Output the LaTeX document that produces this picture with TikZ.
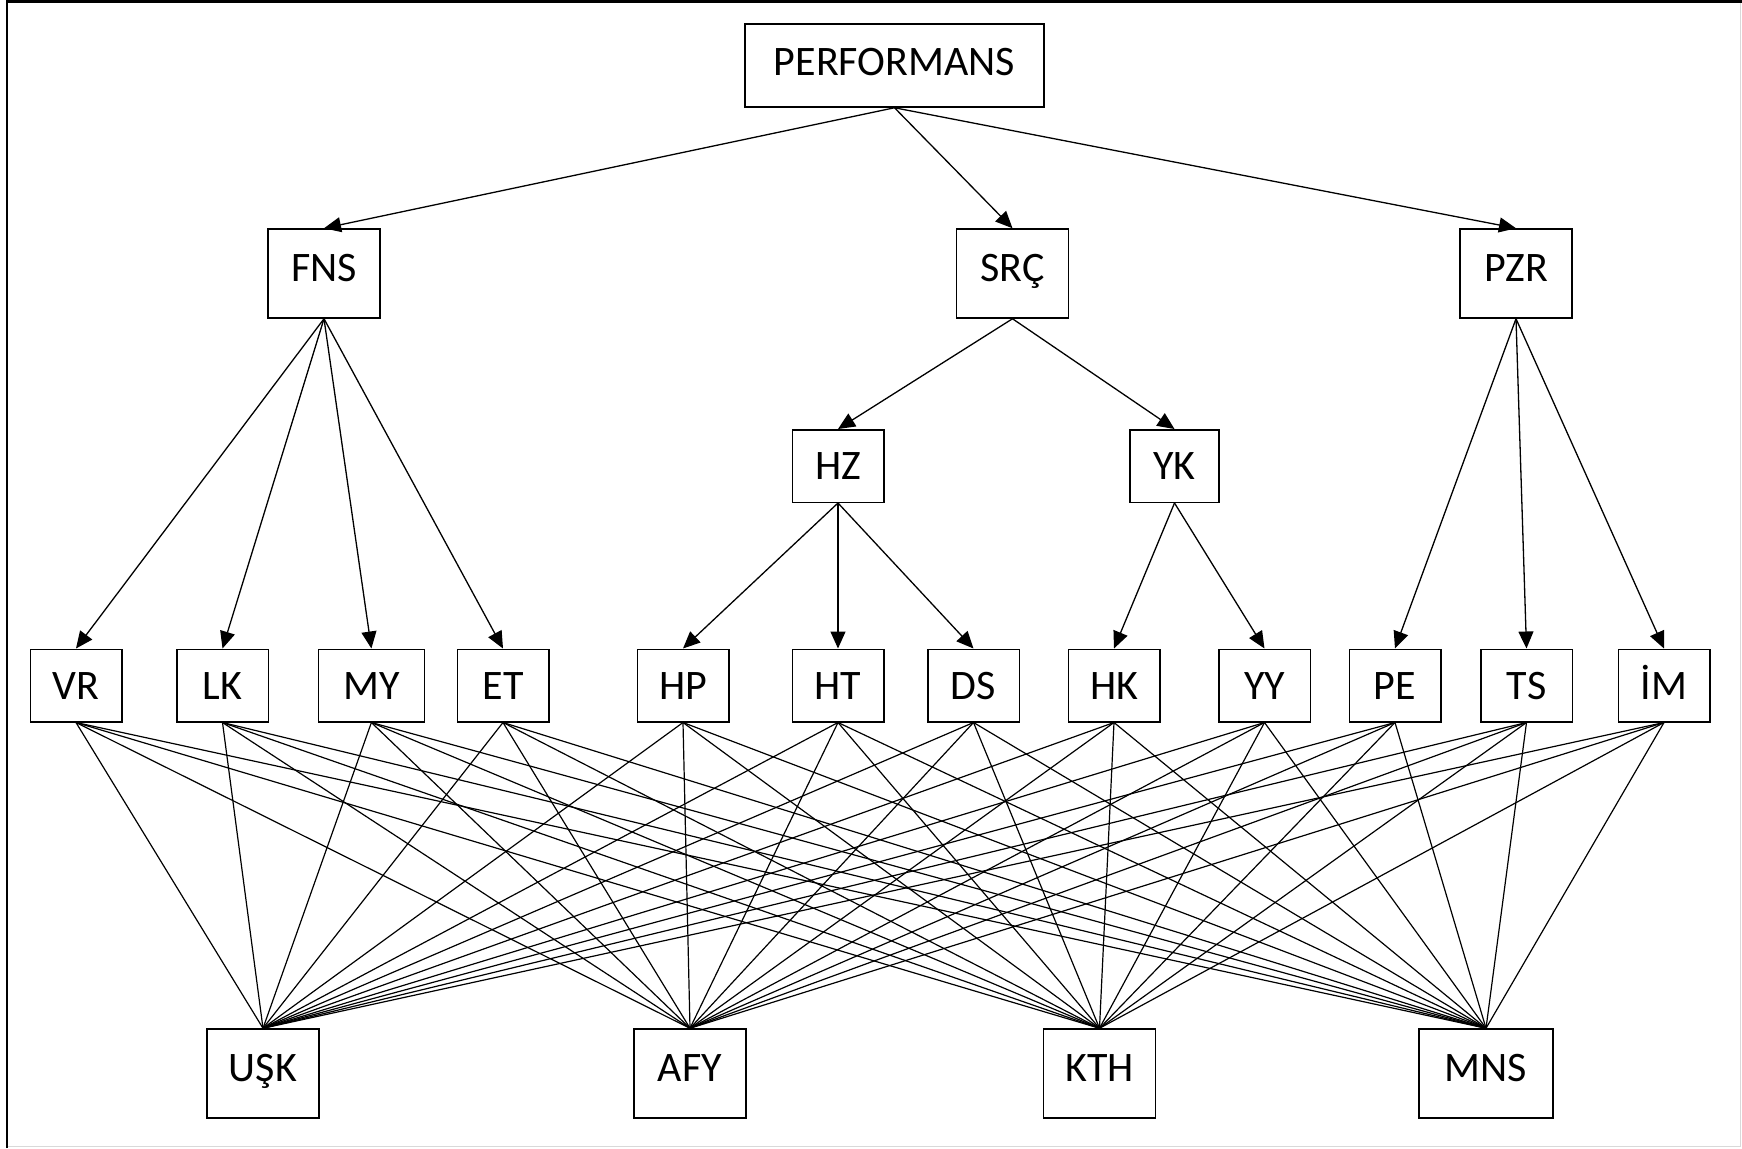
\documentclass[tikz,border=0pt]{standalone}
\usepackage{fontspec}
\setmainfont{Carlito}
\usetikzlibrary{arrows.meta}

\tikzset{
  kutu/.style={draw, line width=0.75pt, inner sep=0pt, minimum width=45.75pt, minimum height=36.25pt,
    text height=13.5pt, text depth=0pt, font=\fontsize{21}{25}\selectfont},
  genis/.style={kutu, minimum width=56pt, minimum height=44.5pt, text depth=5.5pt},
  ok/.style={-{Triangle[length=8.5pt, width=7.5pt]}, line width=0.65pt},
  bag/.style={line width=0.6pt}
}

\begin{document}
\begin{tikzpicture}[x=0.5pt, y=-0.5pt]
  \useasboundingbox (0,0) rectangle (1742,1148);

  % cerceve
  \draw[black!15, line width=0.6pt] (1740.5,1) -- (1740.5,1146.5) -- (7,1146.5);
  \draw[line width=1.1pt] (7,1148) -- (7,1.5) -- (1742,1.5);

  % ust duzey
  \node[kutu, minimum width=149.5pt, minimum height=41.5pt, text depth=3.3pt] (perf) at (894.5,65.5) {PERFORMANS};

  \node[genis] (fns) at (324,273.5) {FNS};
  \node[genis] (src) at (1012.5,273.5) {SRÇ};
  \node[genis] (pzr) at (1516,273.5) {PZR};

  \node[kutu] (hz) at (838,466) {HZ};
  \node[kutu, minimum width=44.5pt] (yk) at (1174.5,466) {YK};

  % kriterler
  \node[kutu] (vr) at (76,685.5) {VR};
  \node[kutu] (lk) at (222.5,685.5) {LK};
  \node[kutu, minimum width=53pt] (my) at (371.4,685.5) {MY};
  \node[kutu] (et) at (503,685.5) {ET};
  \node[kutu] (hp) at (683,685.5) {HP};
  \node[kutu] (ht) at (838,685.5) {HT};
  \node[kutu] (ds) at (973.5,685.5) {DS};
  \node[kutu] (hk) at (1114,685.5) {HK};
  \node[kutu] (yy) at (1264.5,685.5) {YY};
  \node[kutu] (pe) at (1395,685.5) {PE};
  \node[kutu] (ts) at (1526.5,685.5) {TS};
  \node[kutu] (im) at (1664,685.5) {İM};

  % alternatifler
  \node[genis] (usk) at (263,1073.5) {UŞK};
  \node[genis] (afy) at (690,1073.5) {AFY};
  \node[genis] (kth) at (1099.5,1073.5) {KTH};
  \node[genis, minimum width=67pt] (mns) at (1486,1073.5) {MNS};

  % oklar
  \draw[ok] (perf.south) -- (fns.north);
  \draw[ok] (perf.south) -- (src.north);
  \draw[ok] (perf.south) -- (pzr.north);
  \draw[ok] (src.south) -- (hz.north);
  \draw[ok] (src.south) -- (yk.north);
  \foreach \k in {vr,lk,my,et} \draw[ok] (fns.south) -- (\k.north);
  \foreach \k in {hp,ht,ds} \draw[ok] (hz.south) -- (\k.north);
  \foreach \k in {hk,yy} \draw[ok] (yk.south) -- (\k.north);
  \foreach \k in {pe,ts,im} \draw[ok] (pzr.south) -- (\k.north);

  % kriter - alternatif baglantilari
  \foreach \k in {vr,lk,my,et,hp,ht,ds,hk,yy,pe,ts,im}
    \foreach \a in {usk,afy,kth,mns}
      \draw[bag] (\k.south) -- (\a.north);
\end{tikzpicture}
\end{document}
